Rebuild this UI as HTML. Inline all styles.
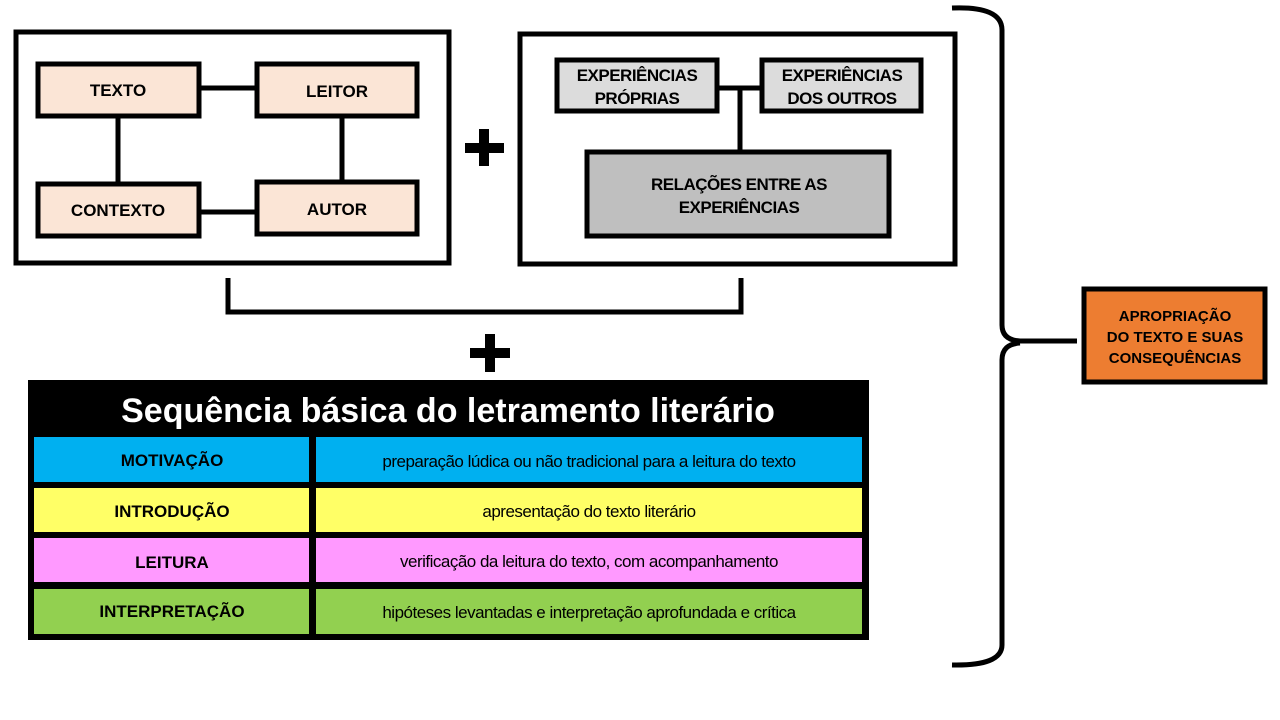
<!DOCTYPE html>
<html><head><meta charset="utf-8"><style>
html,body{margin:0;padding:0;background:#fff;}
svg{display:block;font-family:"Liberation Sans",Arial,sans-serif;}
</style></head><body>
<svg width="1280" height="720" viewBox="0 0 1280 720" xmlns="http://www.w3.org/2000/svg">
<g fill="none" stroke="#000" stroke-width="5">
<rect x="16" y="32" width="433" height="231"/>
<rect x="520" y="34" width="435" height="230"/>
</g>
<g stroke="#000" stroke-width="5">
<line x1="200" y1="88" x2="255" y2="88"/>
<line x1="118" y1="118" x2="118" y2="182"/>
<line x1="342" y1="118" x2="342" y2="180"/>
<line x1="200" y1="212" x2="255" y2="212"/>
<line x1="718" y1="88" x2="760" y2="88"/>
<line x1="740" y1="88" x2="740" y2="150"/>
</g>
<g fill="#fbe5d6" stroke="#000" stroke-width="5">
<rect x="38" y="64" width="161" height="52"/>
<rect x="257" y="64" width="160" height="52"/>
<rect x="38" y="184" width="161" height="52"/>
<rect x="257" y="182" width="160" height="52"/>
</g>
<g font-weight="bold" font-size="17" text-anchor="middle" fill="#000">
<text x="118" y="96">TEXTO</text>
<text x="337" y="97">LEITOR</text>
<text x="118" y="216">CONTEXTO</text>
<text x="337" y="215">AUTOR</text>
</g>
<g fill="#dcdcdc" stroke="#000" stroke-width="5">
<rect x="557" y="60" width="160" height="51"/>
<rect x="762" y="60" width="159" height="51"/>
</g>
<rect x="587" y="152" width="302" height="84" fill="#bfbfbf" stroke="#000" stroke-width="5"/>
<g font-weight="bold" font-size="17" text-anchor="middle" fill="#000" letter-spacing="-0.5">
<text x="637" y="81">EXPERIÊNCIAS</text>
<text x="637" y="104">PRÓPRIAS</text>
<text x="842" y="81">EXPERIÊNCIAS</text>
<text x="842" y="104">DOS OUTROS</text>
<text x="739" y="190">RELAÇÕES ENTRE AS</text>
<text x="739" y="213">EXPERIÊNCIAS</text>
</g>
<path d="M228 278 V312 H741 V278" fill="none" stroke="#000" stroke-width="5"/>
<g fill="#000">
<rect x="465" y="143" width="39" height="10"/><rect x="479" y="129" width="10" height="37"/>
<rect x="470" y="348" width="40" height="10"/><rect x="485" y="334" width="10" height="38"/>
</g>
<path d="M952 8 Q1002 6 1002 30 V325 Q1002 340 1020 341 H1077 M1020 343 Q1002 344 1002 360 V645 Q1002 666 952 665" fill="none" stroke="#000" stroke-width="5"/>
<rect x="1084" y="289" width="181" height="93" fill="#ed7d31" stroke="#000" stroke-width="5"/>
<g font-weight="bold" font-size="15" text-anchor="middle" fill="#000">
<text x="1175" y="321">APROPRIAÇÃO</text>
<text x="1175" y="342">DO TEXTO E SUAS</text>
<text x="1175" y="363">CONSEQUÊNCIAS</text>
</g>
<rect x="28" y="380" width="841" height="260" fill="#000"/>
<text x="448" y="422" font-size="34" font-weight="bold" fill="#fff" text-anchor="middle">Sequência básica do letramento literário</text>
<g>
<rect x="34" y="437" width="275" height="45" fill="#00b0f0"/>
<rect x="316" y="437" width="546" height="45" fill="#00b0f0"/>
<rect x="34" y="488" width="275" height="44" fill="#ffff66"/>
<rect x="316" y="488" width="546" height="44" fill="#ffff66"/>
<rect x="34" y="538" width="275" height="44" fill="#ff99ff"/>
<rect x="316" y="538" width="546" height="44" fill="#ff99ff"/>
<rect x="34" y="589" width="275" height="45" fill="#92d050"/>
<rect x="316" y="589" width="546" height="45" fill="#92d050"/>
</g>
<g font-weight="bold" font-size="17" text-anchor="middle" fill="#000">
<text x="172" y="466">MOTIVAÇÃO</text>
<text x="172" y="517">INTRODUÇÃO</text>
<text x="172" y="568">LEITURA</text>
<text x="172" y="617">INTERPRETAÇÃO</text>
</g>
<g font-size="17" text-anchor="middle" fill="#000" letter-spacing="-0.5">
<text x="589" y="467">preparação lúdica ou não tradicional para a leitura do texto</text>
<text x="589" y="517">apresentação do texto literário</text>
<text x="589" y="567">verificação da leitura do texto, com acompanhamento</text>
<text x="589" y="618">hipóteses levantadas e interpretação aprofundada e crítica</text>
</g>
</svg>
</body></html>
